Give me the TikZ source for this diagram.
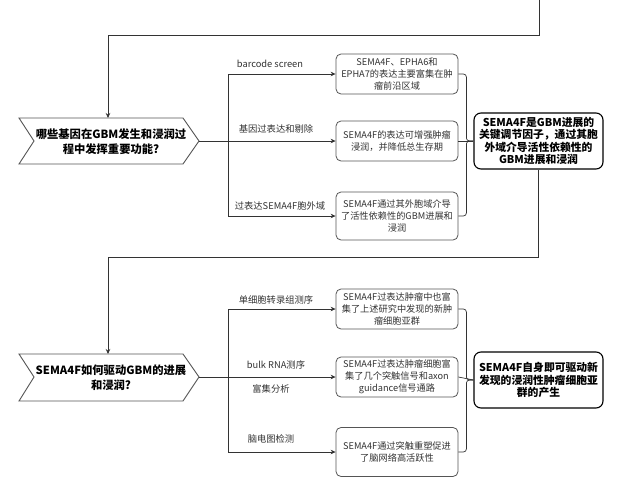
\documentclass[tikz,border=0pt]{standalone}
\usepackage{fontspec}
\setmainfont{Noto Sans CJK SC}
\usetikzlibrary{arrows.meta}
\definecolor{linec}{HTML}{333333}
\definecolor{boxc}{HTML}{555555}
\definecolor{textc}{HTML}{333333}
\begin{document}
\begin{tikzpicture}[x=1pt,y=-1pt,
  conn/.style={draw=linec, line width=0.7pt},
  arr/.style={conn, -{Stealth[length=5pt,width=4.5pt]}},
  smallbox/.style={draw=boxc, rounded corners=5pt, line width=0.8pt, minimum width=122pt, minimum height=40pt, align=center, font=\fontsize{9.2}{12}\selectfont, text=textc, inner sep=1pt},
  bigbox/.style={draw=black, rounded corners=7pt, line width=1.1pt, minimum width=129pt, minimum height=56pt, align=center, font=\bfseries\fontsize{10.8}{12.4}\selectfont, inner sep=1pt},
  lbl/.style={font=\fontsize{9.3}{11}\selectfont, text=textc, inner sep=0pt},
  qtext/.style={font=\bfseries\fontsize{11.3}{15}\selectfont, align=center, inner sep=0pt},
  chev/.style={draw=boxc, line width=0.9pt, fill=white}]
\useasboundingbox[fill=white] (0,0) rectangle (635,498);

% ---------- question 1 ----------
\draw[chev] (19,118) -- (183,118) -- (199,141) -- (183,164) -- (19,164) -- (34,141) -- cycle;
\node[qtext] (q1) at (111,142) {哪些基因在GBM发生和浸润过\\程中发挥重要功能?};
\coordinate (q1top) at (108,118);
\coordinate (q1tip) at (199,141);
\coordinate (split1) at (228,141);
\coordinate (topin) at (539,0);

\node[smallbox] (b1) at (397,74) {SEMA4F、EPHA6和\\EPHA7的表达主要富集在肿\\瘤前沿区域};
\node[smallbox] (b2) at (397,141) {SEMA4F的表达可增强肿瘤\\浸润，并降低总生存期};
\node[smallbox, minimum height=48pt] (b3) at (397,216) {SEMA4F通过其外胞域介导\\了活性依赖性的GBM进展和\\浸润};
\node[bigbox] (B1) at (538.5,141) {SEMA4F是GBM进展的\\关键调节因子，通过其胞\\外域介导活性依赖性的\\GBM进展和浸润};

\node[lbl] (l1) at (270,64) {barcode screen};
\node[lbl] (l2) at (276,129) {基因过表达和剔除};
\node[lbl] (l3) at (280,206) {过表达SEMA4F胞外域};

\draw[arr] (topin) -- ++(0,35) -| (q1top);
\draw[conn] (q1tip) -- (split1);
\draw[arr] (split1) |- (b1.west);
\draw[arr] (split1) -- (b2.west);
\draw[arr] (split1) |- (b3.west);
\draw[conn, rounded corners=3pt] (b1.east) -- ++(8,0) |- (B1.west);
\draw[conn, rounded corners=3pt] (b3.east) -- ++(8,0) |- (B1.west);
\draw[conn] (b2.east) -- (B1.west);

% ---------- question 2 ----------
\draw[chev] (19,354) -- (183,354) -- (199,377) -- (183,401) -- (19,401) -- (34,377) -- cycle;
\node[qtext] (q2) at (111,378) {SEMA4F如何驱动GBM的进展\\和浸润?};
\coordinate (q2top) at (108,354);
\coordinate (q2tip) at (199,377);
\coordinate (split2) at (228,377);

\node[smallbox] (b4) at (397,309) {SEMA4F过表达肿瘤中也富\\集了上述研究中发现的新肿\\瘤细胞亚群};
\node[smallbox] (b5) at (397,377) {SEMA4F过表达肿瘤细胞富\\集了几个突触信号和axon\\guidance信号通路};
\node[smallbox, minimum height=49pt] (b6) at (397,452) {SEMA4F通过突触重塑促进\\了脑网络高活跃性};
\node[bigbox] (B2) at (538.5,380) {SEMA4F自身即可驱动新\\发现的浸润性肿瘤细胞亚\\群的产生};

\node[lbl] (l4) at (276,300) {单细胞转录组测序};
\node[lbl] (l5) at (276,365) {bulk RNA测序};
\node[lbl] (l6) at (271,389) {富集分析};
\node[lbl] (l7) at (271,439) {脑电图检测};

\draw[arr] (B1.south) -- ++(0,88) -| (q2top);
\draw[conn] (q2tip) -- (split2);
\draw[arr] (split2) |- (b4.west);
\draw[arr] (split2) -- (b5.west);
\draw[arr] (split2) |- (b6.west);
\draw[conn, rounded corners=3pt] (b4.east) -- ++(8,0) |- (B2.west);
\draw[conn, rounded corners=3pt] (b6.east) -- ++(8,0) |- (B2.west);
\draw[conn] (b5.east) -- (B2.west);
\end{tikzpicture}
\end{document}
